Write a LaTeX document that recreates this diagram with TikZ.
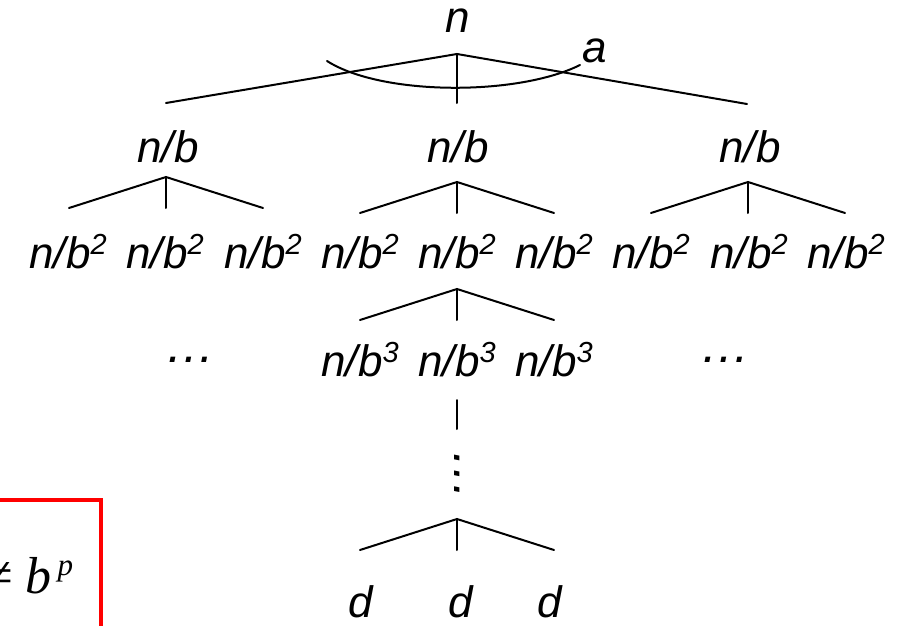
\documentclass[tikz,border=0pt]{standalone}
\usepackage{fontspec}
\setmainfont{Liberation Sans}
\newfontfamily\serifrm{Liberation Serif}
\newcommand\supx[1]{\raisebox{14pt}{\fontsize{29}{29}\selectfont #1}}
\tikzset{
  lbl/.style={font=\fontsize{44}{44}\selectfont\itshape, inner sep=0pt, anchor=base},
  dotlbl/.style={font=\fontsize{50}{50}\selectfont\itshape, inner sep=0pt, anchor=base},
  edge/.style={line width=2pt, line cap=round},
  redbox/.style={draw=red, line width=4pt}
}
\begin{document}
\begin{tikzpicture}[x=1pt,y=-1pt]
\useasboundingbox (0,0) rectangle (902,626);
% labels
\node[lbl] (root) at (458,33) {n};
\node[lbl] (alab) at (595,63) {a};
\node[lbl] (b1) at (168,162) {n/b};
\node[lbl] (b2) at (458,162) {n/b};
\node[lbl] (b3) at (750,162) {n/b};
\foreach \i/\x in {1/68,2/165,3/263,4/360,5/457,6/554,7/651,8/749,9/846}
  \node[lbl] (c\i) at (\x,268) {n/b\supx{2}};
\foreach \i/\x in {1/360,2/457,3/554}
  \node[lbl] (e\i) at (\x,376) {n/b\supx{3}};
\node[dotlbl] (dl) at (190,362) {…};
\node[dotlbl] (dr) at (725,362) {…};
\node[dotlbl, anchor=center] (vd) at (457,475) {\rotatebox{-90}{…}};
\node[lbl] (d1) at (361,617) {d};
\node[lbl] (d2) at (461,617) {d};
\node[lbl] (d3) at (550,617) {d};
% root fork
\coordinate (ra) at (457,54);
\coordinate (rl) at (166,103);
\coordinate (rm) at (457,103);
\coordinate (rr) at (747,104);
\draw[edge] (rl) -- (ra) -- (rr);
\draw[edge] (ra) -- (rm);
\coordinate (arcL) at (327,61);
\coordinate (arcR) at (580,65);
\draw[edge] (arcL) .. controls (382,96) and (518,96) .. (arcR);
% sub forks
\foreach \n/\x/\y in {fa/166/177, fb/457/182, fc/748/182, fd/457/289, fe/457/519}{
  \coordinate (\n a) at (\x,\y);
  \coordinate (\n l) at (\x-97,\y+31);
  \coordinate (\n m) at (\x,\y+31);
  \coordinate (\n r) at (\x+97,\y+31);
  \draw[edge] (\n l) -- (\n a) -- (\n r);
  \draw[edge] (\n a) -- (\n m);
}
\coordinate (vt) at (457,400);
\coordinate (vb) at (457,429);
\draw[edge] (vt) -- (vb);
% red box
\begin{scope}
\clip (0,0) rectangle (902,626);
\coordinate (bx1) at (-20,660);
\coordinate (bx2) at (-20,500);
\coordinate (bx3) at (101,500);
\coordinate (bx4) at (101,660);
\draw[redbox] (bx1) -- (bx2) -- (bx3) -- (bx4);
\node[inner sep=0pt, anchor=base west, font=\fontsize{52}{52}\selectfont\serifrm] (cond) at (-16,593)
  {≠\hspace{13pt}\textit{b}\hspace{6pt}\raisebox{18pt}{\fontsize{31}{31}\selectfont\textit{p}}};
\end{scope}
\end{tikzpicture}
\end{document}
